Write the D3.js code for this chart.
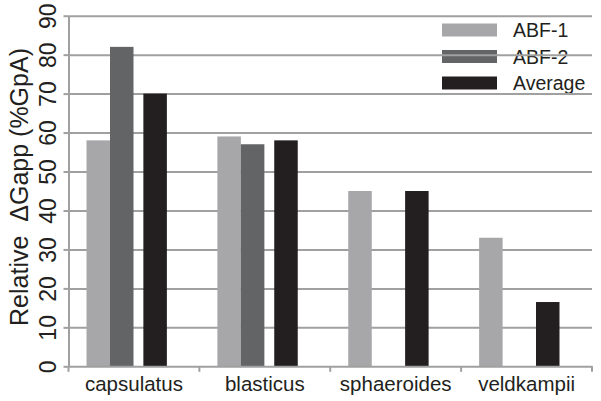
<!DOCTYPE html>
<html>
<head>
<meta charset="utf-8">
<script src="https://cdn.jsdelivr.net/npm/d3@7"></script>
<style>
  html, body { margin: 0; padding: 0; background: #fff; }
  svg { display: block; font-family: "Liberation Sans", Arial, sans-serif; }
</style>
</head>
<body>
<svg id="chart" width="601" height="401"></svg>
<script>
// ---- data ----
const categories = ["capsulatus", "blasticus", "sphaeroides", "veldkampii"];
const series = ["ABF-1", "ABF-2", "Average"];
const abf1 = [58, 59, 45, 33];
const abf2 = [82, 57, null, null];
const average = [70, 58, 45, 16.5];
const yTicks = [0, 10, 20, 30, 40, 50, 60, 70, 80, 90];
const yTitle = "Relative \u00a0\u0394Gapp (%GpA)";

// ---- layout / style ----
const colors = { "ABF-1": "#a7a7a9", "ABF-2": "#636466", "Average": "#231f20" };
const gridColor = "#a0a0a0";
const textColor = "#231f20";
const plot = { left: 68.5, right: 592, top: 15.7, bottom: 366.3 };
const barOffset = 18, barW = 23.5;
const slot = { "ABF-1": 0, "ABF-2": 1, "Average": 2.42 };

const svg = d3.select("#chart");

const x = d3.scaleBand().domain(categories).range([plot.left, plot.right]).padding(0);
const y = d3.scaleLinear().domain([0, 90]).range([plot.bottom, plot.top]);
const sx = d3.scaleLinear().domain([0, 1]).range([barOffset, barOffset + barW]);

const valuesBySeries = { "ABF-1": abf1, "ABF-2": abf2, "Average": average };

// ---- legend (under gridlines) ----
const legend = svg.append("g").attr("transform", "translate(442,0)");
const legendY = d3.scalePoint().domain(series).range([30, 83]);
series.forEach(s => {
  legend.append("rect")
    .attr("x", 0).attr("y", legendY(s) - 6.5)
    .attr("width", 55).attr("height", 13)
    .attr("fill", colors[s]);
  legend.append("text")
    .attr("x", 71).attr("y", legendY(s))
    .attr("dy", "0.36em")
    .attr("font-size", 19.5)
    .attr("fill", textColor)
    .text(s);
});

// ---- gridlines ----
svg.append("g")
  .attr("transform", `translate(${plot.left},0)`)
  .call(d3.axisLeft(y).tickValues(yTicks.filter(v => v > 0)).tickSize(-(plot.right - plot.left)).tickFormat(""))
  .call(g => g.select(".domain").remove())
  .call(g => g.selectAll("line").attr("stroke", gridColor).attr("stroke-width", 2));

// ---- bars ----
const flat = [];
categories.forEach((c, i) => {
  series.forEach(s => {
    const v = valuesBySeries[s][i];
    if (v != null) flat.push({ c, s, v });
  });
});
svg.append("g").selectAll("rect").data(flat).join("rect")
  .attr("x", d => x(d.c) + sx(slot[d.s]))
  .attr("y", d => y(d.v))
  .attr("width", barW)
  .attr("height", d => y(0) - y(d.v))
  .attr("fill", d => colors[d.s]);

// ---- y axis ----
const yAxis = svg.append("g")
  .attr("transform", `translate(${plot.left},0)`)
  .call(d3.axisLeft(y).tickValues(yTicks).tickSize(5).tickSizeOuter(0));
yAxis.select(".domain").attr("stroke", gridColor).attr("stroke-width", 2);
yAxis.selectAll(".tick line").attr("stroke", gridColor).attr("stroke-width", 2);
yAxis.selectAll(".tick text")
  .attr("x", null).attr("dy", null)
  .attr("transform", "translate(-12.5,0) rotate(-90)")
  .attr("text-anchor", "middle")
  .attr("font-size", 23)
  .attr("font-family", "Liberation Sans, Arial, sans-serif")
  .attr("fill", textColor);

// ---- x axis ----
const xAxis = svg.append("g")
  .attr("transform", `translate(0,${plot.bottom})`)
  .call(d3.axisBottom(x).tickSize(0).tickSizeOuter(0));
xAxis.select(".domain").attr("stroke", gridColor).attr("stroke-width", 2);
xAxis.selectAll(".tick text")
  .attr("y", 25)
  .attr("dy", null)
  .attr("font-size", 20.5)
  .attr("font-family", "Liberation Sans, Arial, sans-serif")
  .attr("fill", textColor);
// category boundary ticks
const bounds = categories.map(c => x(c)).concat([plot.right]);
svg.append("g").selectAll("line").data(bounds).join("line")
  .attr("x1", d => d).attr("x2", d => d)
  .attr("y1", plot.bottom).attr("y2", plot.bottom + 5.5)
  .attr("stroke", gridColor).attr("stroke-width", 2);

// ---- y title ----
svg.append("text")
  .attr("transform", `translate(28,${(plot.top + plot.bottom) / 2 - 4}) rotate(-90)`)
  .attr("text-anchor", "middle")
  .attr("font-size", 25)
  .attr("fill", textColor)
  .text(yTitle);
</script>
</body>
</html>
